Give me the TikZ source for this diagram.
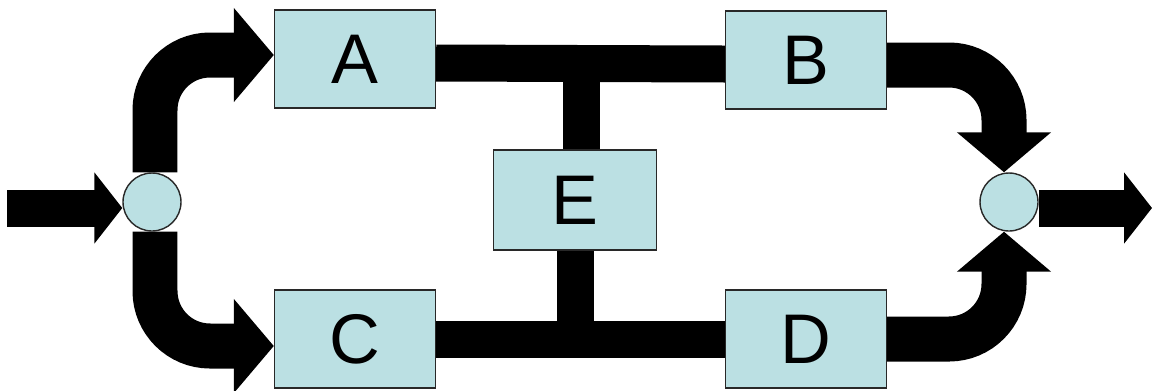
\documentclass[tikz,border=0pt]{standalone}
\usepackage{fontspec}
\setmainfont{Liberation Sans}
\usetikzlibrary{arrows.meta,positioning,backgrounds}
\definecolor{boxblue}{RGB}{187,224,227}
\definecolor{boxedge}{RGB}{40,40,40}

\begin{document}
\begin{tikzpicture}[x=0.02cm,y=-0.02cm,
  block/.style={draw=boxedge,line width=0.8pt,fill=boxblue,minimum width=3.22cm,
    minimum height=1.96cm,inner sep=0pt,font=\fontsize{40}{40}\selectfont},
  junction/.style={circle,draw=boxedge,line width=0.8pt,fill=boxblue,
    minimum size=1.16cm,inner sep=0pt},
  bus/.style={line width=0.74cm},
  flow/.style={line width=0.74cm,-{Triangle[length=0.56cm,width=1.4cm]}},
  bent/.style={line width=0.9cm,rounded corners=1.1cm,
    -{Triangle[length=0.8cm,width=1.84cm]}}]
  \useasboundingbox (0,0) rectangle (1152,390);
  \node[block] (A) at (355,59) {A};
  \node[block] (B) at (806,60) {B};
  \node[block] (C) at (355,339) {C};
  \node[block] (D) at (806,339) {D};
  \node[block,minimum width=3.26cm,minimum height=2cm] (E) at (575,200) {E};
  \node[junction] (split) at (152,202) {};
  \node[junction] (merge) at (1009,202) {};
  \coordinate (src) at (7,208);
  \coordinate (sink) at (1152,208);
  \begin{scope}[on background layer]
    \draw[flow] (src) -- (src -| split.west);
    \draw[flow] (merge.east |- sink) -- (sink);
    \draw[bent] ([xshift=0.06cm]split.north) |- ([yshift=0.08cm]A.west);
    \draw[bent] ([xshift=0.06cm]split.south) |- ([yshift=-0.14cm]C.west);
    \draw[bent] ([yshift=-0.1cm]B.east) -| ([xshift=-0.1cm]merge.north);
    \draw[bent] (D.east) -| ([xshift=-0.1cm]merge.south);
    \draw[bus] ([yshift=-0.08cm]A.east) -- ([yshift=-0.08cm]B.west);
    \draw[bus] (C.east) -- (D.west);
    \draw[bus] ([xshift=0.12cm]E.north) -- ([xshift=0.12cm,yshift=-0.08cm]E.north |- A.east);
    \draw[bus] (E.south) -- (E.south |- C.east);
  \end{scope}
\end{tikzpicture}
\end{document}
